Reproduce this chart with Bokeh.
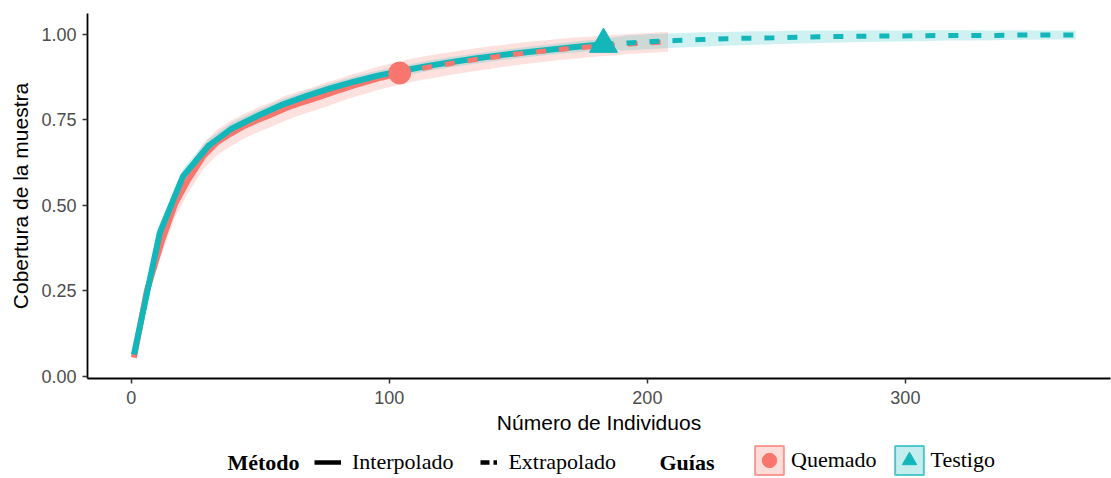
from bokeh.plotting import figure
from bokeh.models import Range1d, Legend, LegendItem, Label, FixedTicker
from bokeh.layouts import column
from bokeh.embed import file_html
from bokeh.resources import INLINE

# ---------------- data ----------------
q_interp_x = [1, 6, 12, 17, 22, 28, 33, 38, 44, 49, 54, 60, 65, 70, 76, 81, 86, 92, 97, 104]
q_interp_y = [0.055, 0.25, 0.40, 0.505, 0.575, 0.645, 0.683, 0.708, 0.733, 0.75, 0.765, 0.785,
              0.798, 0.81, 0.825, 0.838, 0.85, 0.863, 0.874, 0.887]
q_interp_hw = [0.012, 0.03, 0.036, 0.038, 0.038, 0.038, 0.037, 0.037, 0.036, 0.036, 0.036,
               0.036, 0.035, 0.035, 0.035, 0.034, 0.034, 0.034, 0.034, 0.034]
q_extrap_x = [104, 108, 113, 118, 124, 129, 134, 140, 145, 150, 156, 161, 166, 172, 177, 182,
              188, 193, 198, 208]
q_extrap_y = [0.887, 0.894, 0.901, 0.908, 0.915, 0.921, 0.927, 0.933, 0.938, 0.943, 0.948,
              0.952, 0.956, 0.960, 0.963, 0.966, 0.969, 0.972, 0.974, 0.978]
q_extrap_hw = [0.034, 0.034, 0.034, 0.034, 0.033, 0.033, 0.033, 0.033, 0.032, 0.032, 0.032,
               0.031, 0.031, 0.031, 0.030, 0.030, 0.030, 0.029, 0.029, 0.029]

t_interp_x = [1, 11, 20, 30, 39, 49, 58, 68, 77, 87, 96, 106, 115, 125, 134, 144, 153, 163, 172, 183]
t_interp_y = [0.064, 0.42, 0.585, 0.675, 0.725, 0.762, 0.793, 0.82, 0.842, 0.863, 0.88,
              0.895, 0.908, 0.920, 0.930, 0.940, 0.948, 0.956, 0.963, 0.971]
t_interp_hw = [0.01, 0.025, 0.022, 0.02, 0.018, 0.017, 0.016, 0.016, 0.015, 0.015, 0.015,
               0.015, 0.015, 0.015, 0.015, 0.015, 0.015, 0.015, 0.016, 0.016]
t_extrap_x = [183, 192, 202, 211, 221, 230, 240, 249, 259, 268, 278, 287, 297, 306, 316, 325,
              335, 344, 354, 366]
t_extrap_y = [0.971, 0.975, 0.979, 0.982, 0.985, 0.987, 0.989, 0.990, 0.992, 0.993, 0.994,
              0.995, 0.995, 0.996, 0.997, 0.997, 0.997, 0.998, 0.998, 0.998]
t_extrap_hw = [0.016, 0.022, 0.022, 0.021, 0.021, 0.020, 0.020, 0.019, 0.019, 0.018, 0.017,
               0.017, 0.016, 0.016, 0.015, 0.015, 0.014, 0.014, 0.013, 0.013]

x_ticks = [0, 100, 200, 300]
x_tick_labels = ["0", "100", "200", "300"]
y_ticks = [0.0, 0.25, 0.5, 0.75, 1.0]
y_tick_labels = ["0.00", "0.25", "0.50", "0.75", "1.00"]

method_title = "Método"
method_labels = ["Interpolado", "Extrapolado"]
guide_title = "Guías"
guide_labels = ["Quemado", "Testigo"]

RED = "#F8766D"
TEAL = "#13B7BA"

# ---------------- main figure ----------------
p = figure(width=1111, height=443, output_backend="svg", toolbar_location=None,
           x_range=Range1d(-17, 379.5), y_range=Range1d(-0.006, 1.061),
           min_border_left=87, min_border_right=1, min_border_top=13, min_border_bottom=65,
           x_axis_label="Número de Individuos", y_axis_label="Cobertura de la muestra")
p.grid.visible = False
p.outline_line_color = None

for ax in (p.xaxis[0], p.yaxis[0]):
    ax.axis_line_color = "black"
    ax.axis_line_width = 1.8
    ax.major_tick_line_color = "#333333"
    ax.major_tick_line_width = 1.5
    ax.major_tick_in = 0
    ax.major_tick_out = 5
    ax.minor_tick_line_color = None
    ax.major_label_text_font = "Liberation Sans"
    ax.major_label_text_font_size = "18px"
    ax.major_label_text_color = "#4D4D4D"
    ax.axis_label_text_font = "Liberation Sans"
    ax.axis_label_text_font_size = "21px"
    ax.axis_label_text_font_style = "normal"
    ax.axis_label_text_color = "black"

p.xaxis.ticker = FixedTicker(ticks=x_ticks)
p.yaxis.ticker = FixedTicker(ticks=y_ticks)
p.xaxis.major_label_overrides = dict(zip(x_ticks, x_tick_labels))
p.yaxis.major_label_overrides = dict(zip(y_ticks, y_tick_labels))
p.xaxis.major_label_standoff = 7
p.yaxis.major_label_standoff = 6
p.xaxis.axis_label_standoff = 4
p.yaxis.axis_label_standoff = 6

def band(xi, yi, hi, xe, ye, he):
    xs = xi + xe[1:]
    ys = yi + ye[1:]
    hs = hi + he[1:]
    lo = [y - h for y, h in zip(ys, hs)]
    up = [y + h for y, h in zip(ys, hs)]
    return xs, lo, up

qx, qlo, qup = band(q_interp_x, q_interp_y, q_interp_hw, q_extrap_x, q_extrap_y, q_extrap_hw)
tx, tlo, tup = band(t_interp_x, t_interp_y, t_interp_hw, t_extrap_x, t_extrap_y, t_extrap_hw)
p.varea(x=qx, y1=qlo, y2=qup, fill_color=RED, fill_alpha=0.22)
p.varea(x=tx, y1=tlo, y2=tup, fill_color=TEAL, fill_alpha=0.2)

p.line(q_interp_x, q_interp_y, line_color=RED, line_width=6)
p.line(t_interp_x, t_interp_y, line_color=TEAL, line_width=6)
p.line(q_extrap_x, q_extrap_y, line_color=RED, line_width=5, line_dash="10 13")
p.line(t_extrap_x, t_extrap_y, line_color=TEAL, line_width=5, line_dash="10 13")

p.scatter([q_interp_x[-1]], [q_interp_y[-1]], marker="circle", size=22,
          fill_color=RED, line_color=RED)
p.scatter([t_interp_x[-1]], [t_interp_y[-1]], marker="triangle", size=28,
          fill_color=TEAL, line_color=TEAL)

# ---------------- legend strip (frame aligned with main frame: 87..1110) ----------------
lg = figure(width=1111, height=35, output_backend="svg", toolbar_location=None,
            x_range=Range1d(87, 1110), y_range=Range1d(0, 35),
            min_border_left=87, min_border_right=1, min_border_top=0, min_border_bottom=0,
            x_axis_location=None, y_axis_location=None)
lg.grid.visible = False
lg.outline_line_color = None

OFF = [-5000]  # dummy renderers only feed the legend keys (outside the visible range)
k_int = lg.line(x=OFF, y=OFF, line_color="black", line_width=4.5)
k_ext = lg.line(x=OFF, y=OFF, line_color="black", line_width=4.5, line_dash="0 10 9 4 9 10")

kq_box = lg.quad(left=OFF, right=OFF, top=OFF, bottom=OFF, fill_color=RED, fill_alpha=0.25,
                 line_color=RED, line_alpha=0.7, line_width=2)
kq_pt = lg.scatter(x=OFF, y=OFF, marker="circle", fill_color=RED, line_color=RED)
kt_box = lg.quad(left=OFF, right=OFF, top=OFF, bottom=OFF, fill_color=TEAL, fill_alpha=0.25,
                 line_color=TEAL, line_alpha=0.7, line_width=2)
kt_pt = lg.scatter(x=OFF, y=OFF, marker="triangle", fill_color=TEAL, line_color=TEAL)

common = dict(orientation="horizontal", padding=0, margin=0, border_line_color=None,
              background_fill_alpha=0, label_text_font="Liberation Serif",
              label_text_font_size="22px", label_text_color="black")

legA = Legend(items=[LegendItem(label=method_labels[0], renderers=[k_int]),
                     LegendItem(label=method_labels[1], renderers=[k_ext])],
              location=(314 - 87, 0), glyph_width=27, glyph_height=32, label_standoff=11,
              spacing=17, **common)
legB = Legend(items=[LegendItem(label=guide_labels[0], renderers=[kq_box, kq_pt]),
                     LegendItem(label=guide_labels[1], renderers=[kt_box, kt_pt])],
              location=(751 - 87, 0), glyph_width=36, glyph_height=36, label_standoff=4,
              spacing=14, **common)
lg.add_layout(legA, "center")
lg.add_layout(legB, "center")

for txt, xx in ((method_title, 227), (guide_title, 659)):
    lg.add_layout(Label(x=xx, y=16, text=txt,
                        text_font="Liberation Serif", text_font_style="bold",
                        text_font_size="22px", text_baseline="middle", text_align="left",
                        text_color="black"))

layout = column(p, lg, spacing=0)
open("out.html", "w").write(file_html(layout, INLINE))
